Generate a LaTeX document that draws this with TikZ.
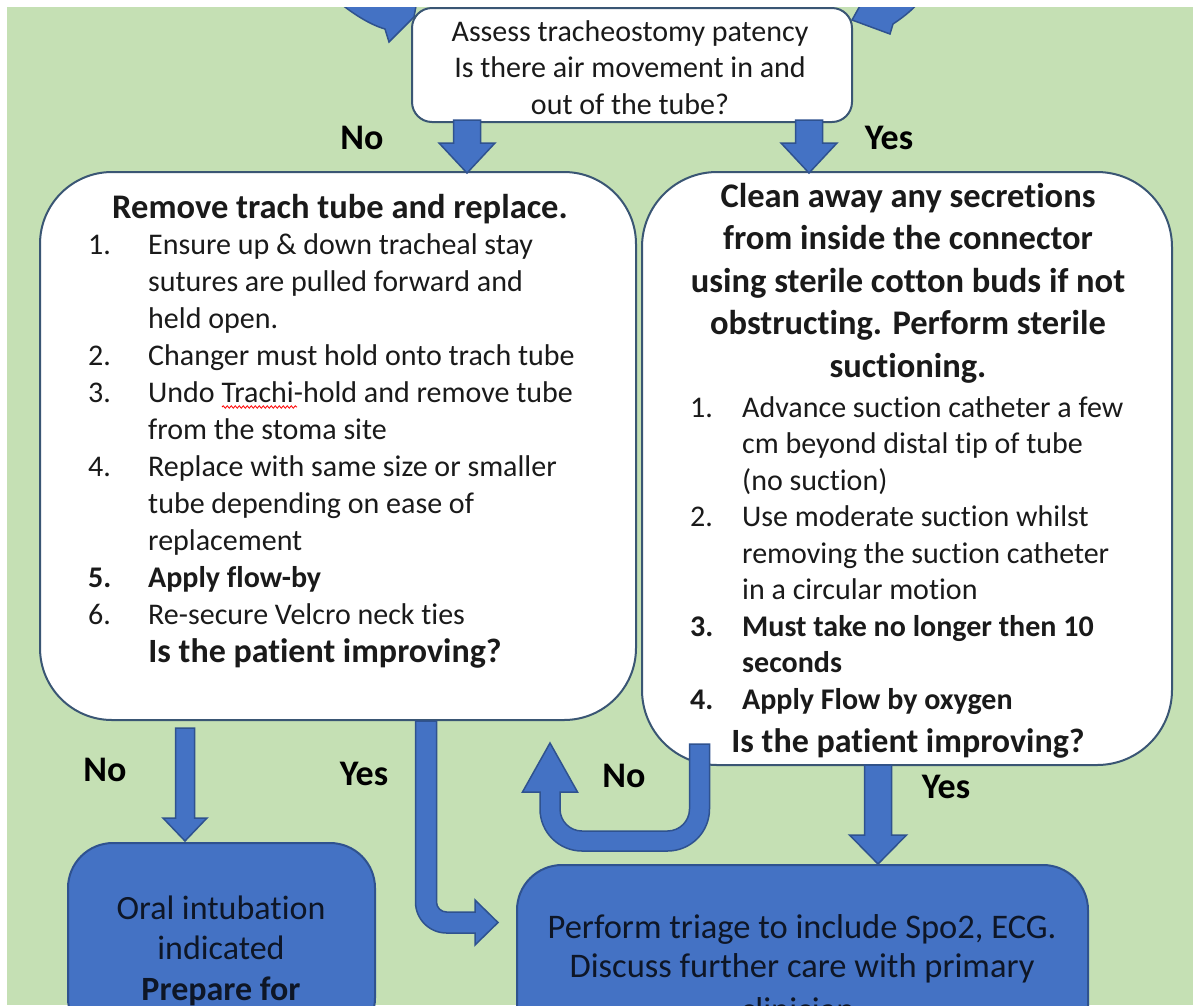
\documentclass[tikz,border=0pt]{standalone}
\usepackage{fontspec}
\setmainfont{Carlito}[Ligatures=NoCommon]
\usetikzlibrary{decorations.pathmorphing}
\definecolor{bggreen}{HTML}{C5E0B4}
\definecolor{bluefill}{HTML}{4472C4}
\definecolor{blueline}{HTML}{2F528F}
\definecolor{boxline}{HTML}{3A5674}
\definecolor{txtcol}{HTML}{1A1A1A}
\definecolor{bluetxt}{HTML}{0E1626}
\tikzset{
  whitebox/.style={draw=boxline, line width=2pt, fill=white, inner sep=0pt},
  bluebox/.style={draw=blueline, line width=2pt, fill=bluefill, inner sep=0pt},
  blockarrow/.style={draw=blueline, line width=1.5pt, fill=bluefill, line join=miter},
  lbl/.style={font=\fontsize{36}{40}\selectfont\bfseries, text=black, inner sep=0pt},
  txt/.style={inner sep=0pt, text=txtcol},
}
% x, ytop, ytip, shaft half width, head half width, head length (y measured downwards)
\newcommand\blkdown[6]{%
  \draw[blockarrow] ({#1-#4},{-#2}) -- ({#1+#4},{-#2}) -- ({#1+#4},{-#3+#6})
    -- ({#1+#5},{-#3+#6}) -- ({#1},{-#3}) -- ({#1-#5},{-#3+#6}) -- ({#1-#4},{-#3+#6}) -- cycle;}
\begin{document}
\begin{tikzpicture}[x=1pt,y=1pt]
\useasboundingbox (0,0) rectangle (1200,-1005);
\fill[white] (0,0) rectangle (1200,-1005);
\begin{scope}
\clip (7,-7) rectangle (1193,-1005);
\fill[bggreen] (7,-7) rectangle (1193,-1005);

% incoming arrows (cut off at the top)
\draw[blockarrow] (330,5) .. controls (350,-12) and (368,-24) .. (385,-29) -- (389,-42) -- (414,-17) -- (418,5) -- cycle;
\draw[blockarrow] (852,-20) -- (890,-34) -- (893,-24) .. controls (905,-16) and (915,-8) .. (925,5) -- (866,5) -- cycle;

% boxes
\node[whitebox, minimum width=440pt, minimum height=114pt, rounded corners=20pt] (assess) at (632,-65) {};
\node[whitebox, minimum width=596pt, minimum height=548pt, rounded corners=72pt] (remove) at (338,-446) {};
\node[whitebox, minimum width=530pt, minimum height=593pt, rounded corners=75pt] (clean) at (907,-468.5) {};
\node[bluebox, minimum width=307pt, minimum height=200pt, rounded corners=45pt] (oral) at (221.5,-943) {};
\node[bluebox, minimum width=571pt, minimum height=200pt, rounded corners=45pt] (triage) at (802.5,-965) {};

% texts
\node[txt, align=center, anchor=north, font=\fontsize{30}{36.5}\selectfont] (assesst) at (630,-15.45)
  {\strut Assess tracheostomy patency\\Is there air movement in and\\out of the tube?};

\node[txt, anchor=base, font=\fontsize{34.5}{42}\selectfont\bfseries] (removet) at (340,-218) {Remove trach tube and replace.};
\node[txt, align=left, anchor=north west, font=\fontsize{30}{37}\selectfont] (removel) at (88,-228.1)
  {\strut\makebox[60pt][l]{1.}Ensure up \& down tracheal stay\\
   \hspace*{60pt}sutures are pulled forward and\\
   \hspace*{60pt}held open.\\
   \makebox[60pt][l]{2.}Changer must hold onto trach tube\\
   \makebox[60pt][l]{3.}Undo Trachi-hold and remove tube\\
   \hspace*{60pt}from the stoma site\\
   \makebox[60pt][l]{4.}Replace with same size or smaller\\
   \hspace*{60pt}tube depending on ease of\\
   \hspace*{60pt}replacement\\
   \makebox[60pt][l]{\bfseries 5.}\textbf{Apply flow-by}\\
   \makebox[60pt][l]{6.}Re-secure Velcro neck ties};
\draw[red, line width=0.8pt, decorate, decoration={snake, amplitude=1.2pt, segment length=4pt}] (222,-407) -- (297,-407);
\node[txt, anchor=base, font=\fontsize{34}{40}\selectfont\bfseries] (removeq) at (325,-662) {Is the patient improving?};

\node[txt, align=center, anchor=north, font=\fontsize{34.5}{42.5}\selectfont\bfseries] (cleant) at (908,-177.25)
  {\strut Clean away any secretions\\from inside the connector\\using sterile cotton buds if not\\obstructing. Perform sterile\\suctioning.};
\node[txt, align=left, anchor=north west, font=\fontsize{30}{36.5}\selectfont] (cleanl) at (690,-391.45)
  {\strut\makebox[52pt][l]{1.}Advance suction catheter a few\\
   \hspace*{52pt}cm beyond distal tip of tube\\
   \hspace*{52pt}(no suction)\\
   \makebox[52pt][l]{2.}Use moderate suction whilst\\
   \hspace*{52pt}removing the suction catheter\\
   \hspace*{52pt}in a circular motion\\
   \makebox[52pt][l]{\bfseries 3.}\textbf{Must take no longer then 10}\\
   \hspace*{52pt}\textbf{seconds}\\
   \makebox[52pt][l]{\bfseries 4.}\textbf{Apply Flow by oxygen}};
\node[txt, anchor=base, font=\fontsize{34}{40}\selectfont\bfseries] (cleanq) at (908,-752) {Is the patient improving?};

\node[inner sep=0pt, text=bluetxt, align=center, anchor=north, font=\fontsize{34}{40.5}\selectfont] (oralt) at (221,-890.65)
  {\strut Oral intubation\\indicated\\\textbf{Prepare for}};
\node[inner sep=0pt, text=bluetxt, align=center, anchor=north, font=\fontsize{34.5}{39}\selectfont] (triaget) at (802,-910.7)
  {\strut Perform triage to include Spo2, ECG.\\Discuss further care with primary\\[5pt]clinician.};

% connectors
\blkdown{467}{120}{173}{13.5}{28}{30}
\blkdown{809}{120}{173}{13.5}{28}{30}
\blkdown{185}{728}{841}{9.5}{22}{23}
\blkdown{878}{765}{864}{13.5}{28.5}{29}

% bent Yes arrow (left box -> triage)
\draw[blockarrow] (415.5,-721) -- (436.5,-721) -- (436.5,-902) arc[start angle=180,end angle=270,radius=10pt]
  -- (475,-912) -- (475,-900) -- (498,-922.5) -- (475,-945) -- (475,-933) -- (446.5,-933)
  arc[start angle=270,end angle=180,radius=31pt] -- cycle;

% U-turn No arrow (right box -> left box)
\draw[blockarrow] (689.5,-744) -- (709.5,-744) -- (709.5,-809) arc[start angle=0,end angle=-90,radius=42pt]
  -- (582,-851) arc[start angle=270,end angle=180,radius=42pt]
  -- (540,-792) -- (522.5,-792) -- (550,-743) -- (577.5,-792) -- (560,-792) -- (560,-809)
  arc[start angle=180,end angle=270,radius=22pt] -- (667.5,-831)
  arc[start angle=270,end angle=360,radius=22pt] -- cycle;

% labels
\node[lbl] (no1) at (362,-138) {No};
\node[lbl] (yes1) at (889,-138) {Yes};
\node[lbl] (no2) at (105,-770) {No};
\node[lbl] (yes2) at (364,-774) {Yes};
\node[lbl] (no3) at (624,-776) {No};
\node[lbl] (yes3) at (946,-787) {Yes};
\end{scope}
\end{tikzpicture}
\end{document}
